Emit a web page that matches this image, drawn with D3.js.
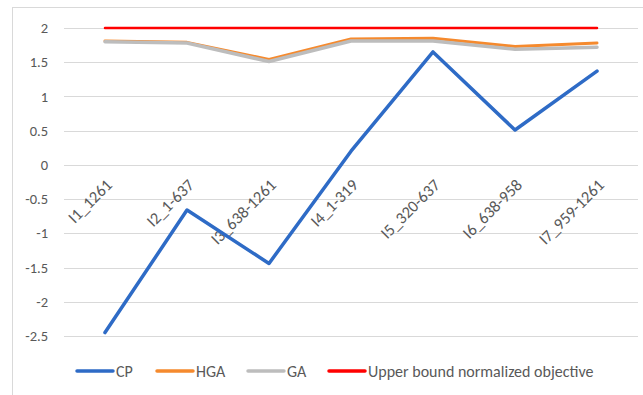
<!DOCTYPE html>
<html>
<head>
<meta charset="utf-8">
<script src="https://cdn.jsdelivr.net/npm/d3@7/dist/d3.min.js"></script>
<style>
  html, body { margin: 0; padding: 0; background: #fff; }
  svg { display: block; font-family: Carlito, Lato, "Liberation Sans", sans-serif; }
</style>
</head>
<body>
<svg id="chart" width="643" height="395"></svg>
<script>
// Instances on the x axis
const categories = ["I1_1261", "I2_1-637", "I3_638-1261", "I4_1-319", "I5_320-637", "I6_638-958", "I7_959-1261"];

// Normalized objective per method
const cpValues  = [-2.45, -0.66, -1.44, 0.2, 1.65, 0.51, 1.37];
const hgaValues = [1.81, 1.79, 1.54, 1.84, 1.85, 1.73, 1.78];
const gaValues  = [1.80, 1.78, 1.51, 1.81, 1.81, 1.69, 1.72];
const upperValues = [2, 2, 2, 2, 2, 2, 2];

const yTicks = [2, 1.5, 1, 0.5, 0, -0.5, -1, -1.5, -2, -2.5];

const series = [
  { name: "CP", values: cpValues, color: "#2E6BC6", width: 3.5 },
  { name: "HGA", values: hgaValues, color: "#F58A2E", width: 3 },
  { name: "GA", values: gaValues, color: "#BDBDBD", width: 3.5 },
  { name: "Upper bound normalized objective", values: upperValues, color: "#FF0000", width: 2.5 }
];

const svg = d3.select("#chart");

// chart area frame
svg.append("rect")
  .attr("x", 12.5).attr("y", 7.5)
  .attr("width", 700).attr("height", 420)
  .attr("fill", "#fff").attr("stroke", "#d9d9d9").attr("stroke-width", 1);

const x = d3.scalePoint()
  .domain(categories)
  .range([64, 638])
  .padding(0.5);

const y = d3.scaleLinear()
  .domain([-2.5, 2])
  .range([336, 28]);

// horizontal gridlines
svg.append("g")
  .selectAll("line")
  .data(yTicks)
  .join("line")
  .attr("x1", 64).attr("x2", 638)
  .attr("y1", d => Math.round(y(d)) + 0.5)
  .attr("y2", d => Math.round(y(d)) + 0.5)
  .attr("stroke", "#d9d9d9").attr("stroke-width", 1.2);

// y axis labels
const yAxis = d3.axisLeft(y).tickValues(yTicks).tickSize(0).tickPadding(0)
  .tickFormat(d => String(d));
svg.append("g")
  .attr("transform", "translate(48,0)")
  .call(yAxis)
  .call(g => g.select(".domain").remove())
  .call(g => g.selectAll("text")
    .attr("fill", "#595959")
    .style("font-size", "14.5px")
    .style("font-family", "Carlito, Lato, 'Liberation Sans', sans-serif"));

// category labels, rotated, hanging from the zero line
svg.append("g")
  .selectAll("text")
  .data(categories)
  .join("text")
  .attr("transform", d => `translate(${x(d) + 4},${y(0) + 17}) rotate(-45)`)
  .attr("text-anchor", "end")
  .attr("dy", "0.35em")
  .attr("fill", "#595959")
  .style("font-size", "16.5px")
  .text(d => d);

// lines
const line = d3.line()
  .x((d, i) => x(categories[i]))
  .y(d => y(d));

svg.append("g")
  .selectAll("path")
  .data(series)
  .join("path")
  .attr("d", d => line(d.values))
  .attr("fill", "none")
  .attr("stroke", d => d.color)
  .attr("stroke-width", d => d.width)
  .attr("stroke-linejoin", "round")
  .attr("stroke-linecap", "round");

// legend
const legendX = [77, 157, 248, 329];
const legend = svg.append("g")
  .selectAll("g")
  .data(series)
  .join("g")
  .attr("transform", (d, i) => `translate(${legendX[i]},371)`);
legend.append("line")
  .attr("x1", 0).attr("x2", 36)
  .attr("stroke", d => d.color).attr("stroke-width", 3.5)
  .attr("stroke-linecap", "round");
legend.append("text")
  .attr("x", 39).attr("dy", "0.35em")
  .attr("fill", "#595959")
  .style("font-size", "16px")
  .text(d => d.name);
</script>
</body>
</html>
